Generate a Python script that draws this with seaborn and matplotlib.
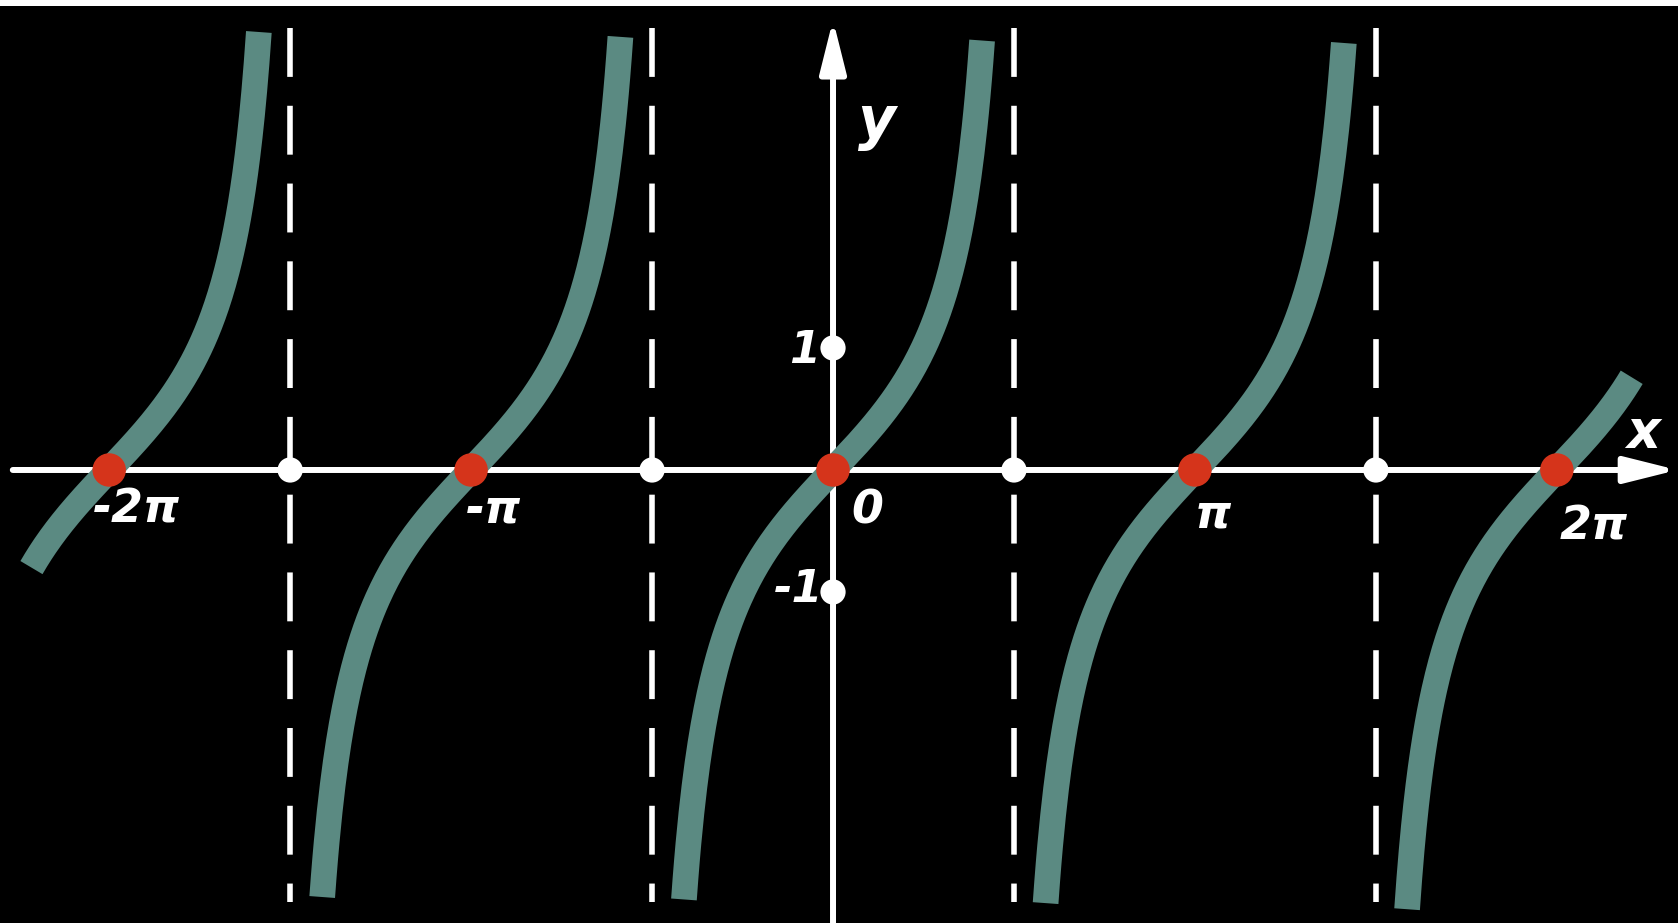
import numpy as np
import pandas as pd
import matplotlib
matplotlib.use("Agg")
import matplotlib.pyplot as plt
import seaborn as sns

# ramas de y = tan(x): centro de cada rama y hasta donde se dibuja
centros = [-2 * np.pi, -np.pi, 0.0, np.pi, 2 * np.pi]
y_abajo = [-0.8, -3.5, -3.52, -3.55, -3.6]
y_arriba = [3.59, 3.55, 3.52, 3.5, 0.76]

asintotas = [-1.5 * np.pi, -0.5 * np.pi, 0.5 * np.pi, 1.5 * np.pi]
marcas_y = [1, -1]

etiquetas_x = ["-2π", "-π", "0", "π", "2π"]
pos_etiquetas_x = [(-6.05, -0.33), (-2.95, -0.33), (0.3, -0.34), (3.3, -0.37), (6.6, -0.47)]
etiquetas_y = ["1", "-1"]
pos_etiquetas_y = [(-0.25, 0.98), (-0.3, -0.98)]

color_curva = "#5b8a82"
color_rojo = "#d5341b"

# tabla con todas las ramas
filas = []
for i, c in enumerate(centros):
    t = np.linspace(np.arctan(y_abajo[i]), np.arctan(y_arriba[i]), 200)
    filas.append(pd.DataFrame({"x": c + t, "y": np.tan(t), "rama": i}))
df = pd.concat(filas, ignore_index=True)

sns.set_theme(style="dark")
plt.rcParams['font.family'] = ['DejaVu Sans']

fig = plt.figure(figsize=(16.78, 9.23), dpi=100, facecolor="white")
ax = fig.add_axes([0, 0, 1, 917 / 923])
ax.set_facecolor("black")

# ejes con flecha
ax.annotate("", xy=(7.33, 0), xytext=(-7.12, 0),
            arrowprops=dict(arrowstyle="-|>,head_length=32,head_width=8", mutation_scale=1,
                            color="white", lw=4.3, shrinkA=0, shrinkB=0), zorder=2)
ax.annotate("", xy=(0, 3.69), xytext=(0, -3.72),
            arrowprops=dict(arrowstyle="-|>,head_length=32,head_width=8", mutation_scale=1,
                            color="white", lw=4.3, shrinkA=0, shrinkB=0), zorder=2)

# asintotas discontinuas
for a in asintotas:
    ax.plot([a, a], [3.62, -3.54], color="white", lw=4, linestyle=(0, (8.8, 5.2)),
            solid_capstyle="butt", dash_capstyle="butt", zorder=2)

# curvas
sns.lineplot(data=df, x="x", y="y", units="rama", estimator=None, sort=False,
             color=color_curva, linewidth=18.5, solid_capstyle="butt", ax=ax, zorder=3)

# puntos
puntos_blancos = pd.DataFrame({"x": asintotas + [0, 0], "y": [0] * len(asintotas) + marcas_y})
sns.scatterplot(data=puntos_blancos, x="x", y="y", color="white", s=330, edgecolor="none",
                ax=ax, zorder=4)
ceros = pd.DataFrame({"x": centros, "y": [0] * len(centros)})
sns.scatterplot(data=ceros, x="x", y="y", color=color_rojo, s=580, edgecolor="none",
                ax=ax, zorder=5)

# textos
estilo = dict(color="white", fontweight="bold", fontstyle="italic", ha="center", va="center")
for txt, (px, py) in zip(etiquetas_x, pos_etiquetas_x):
    ax.text(px, py, txt, fontsize=33, **estilo)
for txt, (px, py) in zip(etiquetas_y, pos_etiquetas_y):
    ax.text(px, py, txt, fontsize=32, **estilo)
ax.text(0.38, 2.85, "y", fontsize=42, **estilo)
ax.text(7.03, 0.3, "x", fontsize=38, **estilo)

ax.set_xlim(-7.231, 7.335)
ax.set_ylim(-3.713, 3.803)
ax.set_xticks([])
ax.set_yticks([])
ax.set_xlabel("")
ax.set_ylabel("")
ax.grid(False)
for s in ax.spines.values():
    s.set_visible(False)

fig.savefig("out.png", dpi=100, facecolor="white")
